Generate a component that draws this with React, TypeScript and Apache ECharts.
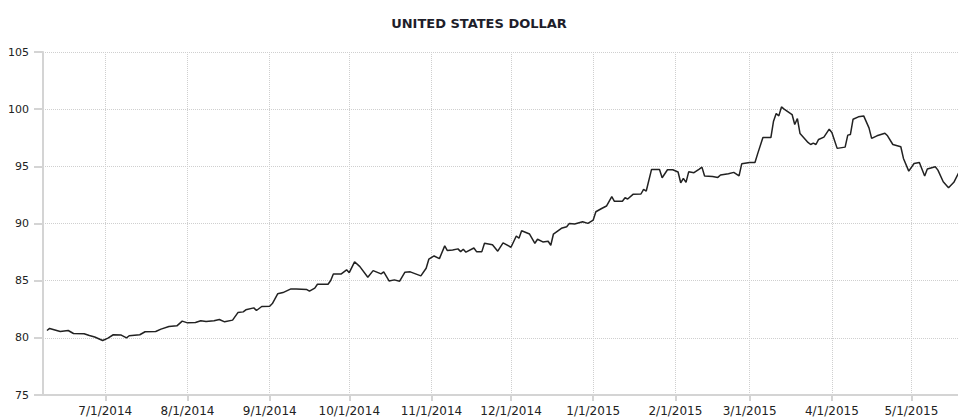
import React, { useEffect, useRef } from "react";
import * as echarts from "echarts";

const TITLE = "UNITED STATES DOLLAR";

const dates: string[] = [
  "2014-06-09", "2014-06-10", "2014-06-14", "2014-06-17", "2014-06-19", "2014-06-23", "2014-06-25", "2014-06-27", "2014-06-30",
  "2014-07-02", "2014-07-04", "2014-07-07", "2014-07-09", "2014-07-10", "2014-07-14", "2014-07-16", "2014-07-20", "2014-07-22", "2014-07-25", "2014-07-28", "2014-07-30",
  "2014-08-01", "2014-08-04", "2014-08-06", "2014-08-08", "2014-08-11", "2014-08-13", "2014-08-15", "2014-08-18", "2014-08-20", "2014-08-22", "2014-08-23", "2014-08-26", "2014-08-27", "2014-08-29",
  "2014-09-01", "2014-09-02", "2014-09-04", "2014-09-06", "2014-09-09", "2014-09-11", "2014-09-15", "2014-09-16", "2014-09-18", "2014-09-19", "2014-09-23", "2014-09-24", "2014-09-25", "2014-09-28", "2014-09-30",
  "2014-10-01", "2014-10-03", "2014-10-05", "2014-10-08", "2014-10-10", "2014-10-13", "2014-10-14", "2014-10-16", "2014-10-18", "2014-10-20", "2014-10-22", "2014-10-24", "2014-10-28", "2014-10-30", "2014-10-31",
  "2014-11-02", "2014-11-04", "2014-11-06", "2014-11-07", "2014-11-09", "2014-11-11", "2014-11-12", "2014-11-13", "2014-11-14", "2014-11-17", "2014-11-18", "2014-11-20", "2014-11-21", "2014-11-24", "2014-11-26", "2014-11-28",
  "2014-12-01", "2014-12-03", "2014-12-04", "2014-12-05", "2014-12-08", "2014-12-10", "2014-12-11", "2014-12-13", "2014-12-15", "2014-12-16", "2014-12-17", "2014-12-20", "2014-12-22", "2014-12-23", "2014-12-25", "2014-12-28", "2014-12-30",
  "2015-01-01", "2015-01-02", "2015-01-04", "2015-01-06", "2015-01-08", "2015-01-09", "2015-01-12", "2015-01-13", "2015-01-14", "2015-01-16", "2015-01-19", "2015-01-20", "2015-01-21", "2015-01-23", "2015-01-26", "2015-01-27", "2015-01-29", "2015-01-31",
  "2015-02-02", "2015-02-03", "2015-02-04", "2015-02-05", "2015-02-06", "2015-02-08", "2015-02-10", "2015-02-11", "2015-02-12", "2015-02-15", "2015-02-17", "2015-02-18", "2015-02-21", "2015-02-23", "2015-02-25", "2015-02-26",
  "2015-03-01", "2015-03-03", "2015-03-04", "2015-03-06", "2015-03-09", "2015-03-10", "2015-03-11", "2015-03-12", "2015-03-13", "2015-03-14", "2015-03-17", "2015-03-18", "2015-03-19", "2015-03-20", "2015-03-22", "2015-03-23", "2015-03-24", "2015-03-25", "2015-03-26", "2015-03-27", "2015-03-29", "2015-03-31",
  "2015-04-01", "2015-04-03", "2015-04-06", "2015-04-07", "2015-04-08", "2015-04-09", "2015-04-11", "2015-04-13", "2015-04-15", "2015-04-16", "2015-04-18", "2015-04-21", "2015-04-22", "2015-04-24", "2015-04-27", "2015-04-28", "2015-04-30",
  "2015-05-02", "2015-05-04", "2015-05-06", "2015-05-07", "2015-05-10", "2015-05-11", "2015-05-13", "2015-05-15", "2015-05-17", "2015-05-19", "2015-05-20",
];

const values: number[] = [
  80.64, 80.82, 80.55, 80.64, 80.38, 80.35, 80.2, 80.07, 79.77,
  79.98, 80.27, 80.24, 80.0, 80.18, 80.27, 80.53, 80.55, 80.76, 80.99, 81.05, 81.46,
  81.31, 81.34, 81.49, 81.43, 81.49, 81.6, 81.4, 81.55, 82.21, 82.27, 82.45, 82.62, 82.39, 82.74,
  82.77, 83.0, 83.85, 83.96, 84.28, 84.28, 84.22, 84.08, 84.35, 84.69, 84.69, 85.01, 85.59, 85.59, 85.95,
  85.7, 86.65, 86.23, 85.3, 85.88, 85.59, 85.77, 84.98, 85.07, 84.95, 85.74, 85.77, 85.42, 86.09, 86.88,
  87.16, 86.93, 88.04, 87.63, 87.69, 87.78, 87.54, 87.75, 87.49, 87.86, 87.54, 87.54, 88.27, 88.15, 87.58, 88.3,
  87.92, 88.91, 88.71, 89.37, 89.08, 88.27, 88.62, 88.39, 88.45, 88.1, 89.08, 89.58, 89.72, 90.01, 89.96, 90.16, 90.01,
  90.3, 91.03, 91.29, 91.53, 92.34, 91.94, 91.94, 92.25, 92.14, 92.55, 92.58, 92.99, 92.84, 94.73, 94.73, 94.0, 94.7, 94.7,
  94.5, 93.56, 93.95, 93.6, 94.52, 94.44, 94.76, 94.93, 94.15, 94.12, 94.03, 94.24, 94.35, 94.47, 94.17, 95.22,
  95.34, 95.34, 96.09, 97.52, 97.52, 98.95, 99.62, 99.41, 100.2, 100.0, 99.53, 98.66, 99.18, 97.87, 97.35, 97.09, 96.91, 97.03, 96.91, 97.35, 97.55, 98.25,
  97.96, 96.57, 96.68, 97.73, 97.79, 99.12, 99.33, 99.41, 98.36, 97.44, 97.67, 97.9, 97.67, 96.91, 96.71, 95.69, 94.58,
  95.25, 95.34, 94.15, 94.76, 94.96, 94.67, 93.65, 93.13, 93.6, 94.52, 95.3,
];

const tickDates: string[] = [
  "2014-07-01", "2014-08-01", "2014-09-01", "2014-10-01", "2014-11-01", "2014-12-01",
  "2015-01-01", "2015-02-01", "2015-03-01", "2015-04-01", "2015-05-01",
];
const tickLabels: string[] = [
  "7/1/2014", "8/1/2014", "9/1/2014", "10/1/2014", "11/1/2014", "12/1/2014",
  "1/1/2015", "2/1/2015", "3/1/2015", "4/1/2015", "5/1/2015",
];

const X_START = "2014-06-07";
const X_END = "2015-05-18";
const Y_MIN = 75;
const Y_MAX = 105;
const Y_STEP = 5;

function toTime(s: string, h = 0, mi = 0): number {
  const [y, m, d] = s.split("-").map(Number);
  return new Date(y, m - 1, d, h, mi).getTime();
}

export default function App() {
  const ref = useRef<HTMLDivElement>(null);

  useEffect(() => {
    document.body.style.margin = "0";
    if (!ref.current) return;
    const chart = echarts.init(ref.current, undefined, { renderer: "svg" });
    const tickTimes = tickDates.map((s) => toTime(s));
    const font = "DejaVu Sans";
    const axisGray = "#d4d4d4";
    const gridLine = { show: true, lineStyle: { type: "dotted" as const, color: "#cfcfcf", width: 1 } };

    chart.setOption({
      animation: false,
      backgroundColor: "#ffffff",
      title: {
        text: TITLE,
        left: "center",
        top: 12,
        textStyle: { fontFamily: font, fontSize: 13, fontWeight: "bold", color: "#1e1e2a" },
      },
      grid: { left: 43, right: 0, top: 52, bottom: 22 },
      xAxis: {
        type: "value",
        scale: true,
        min: toTime(X_START, 12, 0),
        max: toTime(X_END, 13, 40),
        axisLine: { show: true, onZero: false, lineStyle: { color: axisGray, width: 2 } },
        axisTick: { show: true, customValues: tickTimes, length: 6, lineStyle: { color: axisGray, width: 2 } },
        axisLabel: {
          customValues: tickTimes,
          formatter: (v: number) => {
            let best = 0;
            for (let i = 0; i < tickTimes.length; i++) {
              if (Math.abs(tickTimes[i] - v) < Math.abs(tickTimes[best] - v)) best = i;
            }
            return tickLabels[best];
          },
          fontFamily: font,
          fontSize: 12,
          color: "#222",
          margin: 10,
          hideOverlap: false,
        },
        splitLine: gridLine,
      },
      yAxis: {
        type: "value",
        min: Y_MIN,
        max: Y_MAX,
        interval: Y_STEP,
        axisLine: { show: true, lineStyle: { color: axisGray, width: 2 } },
        axisTick: { show: true, length: 9, lineStyle: { color: axisGray, width: 2 } },
        axisLabel: { fontFamily: font, fontSize: 11, color: "#222", margin: 14 },
        splitLine: gridLine,
      },
      series: [
        {
          type: "line",
          data: dates.map((d, i) => [toTime(d), values[i]]),
          showSymbol: false,
          symbol: "none",
          clip: true,
          lineStyle: { color: "#222", width: 1.5 },
        },
      ],
    });

    return () => chart.dispose();
  }, []);

  return (
    <div
      ref={ref}
      style={{ position: "absolute", left: 0, top: 0, width: 958, height: 417 }}
    />
  );
}
